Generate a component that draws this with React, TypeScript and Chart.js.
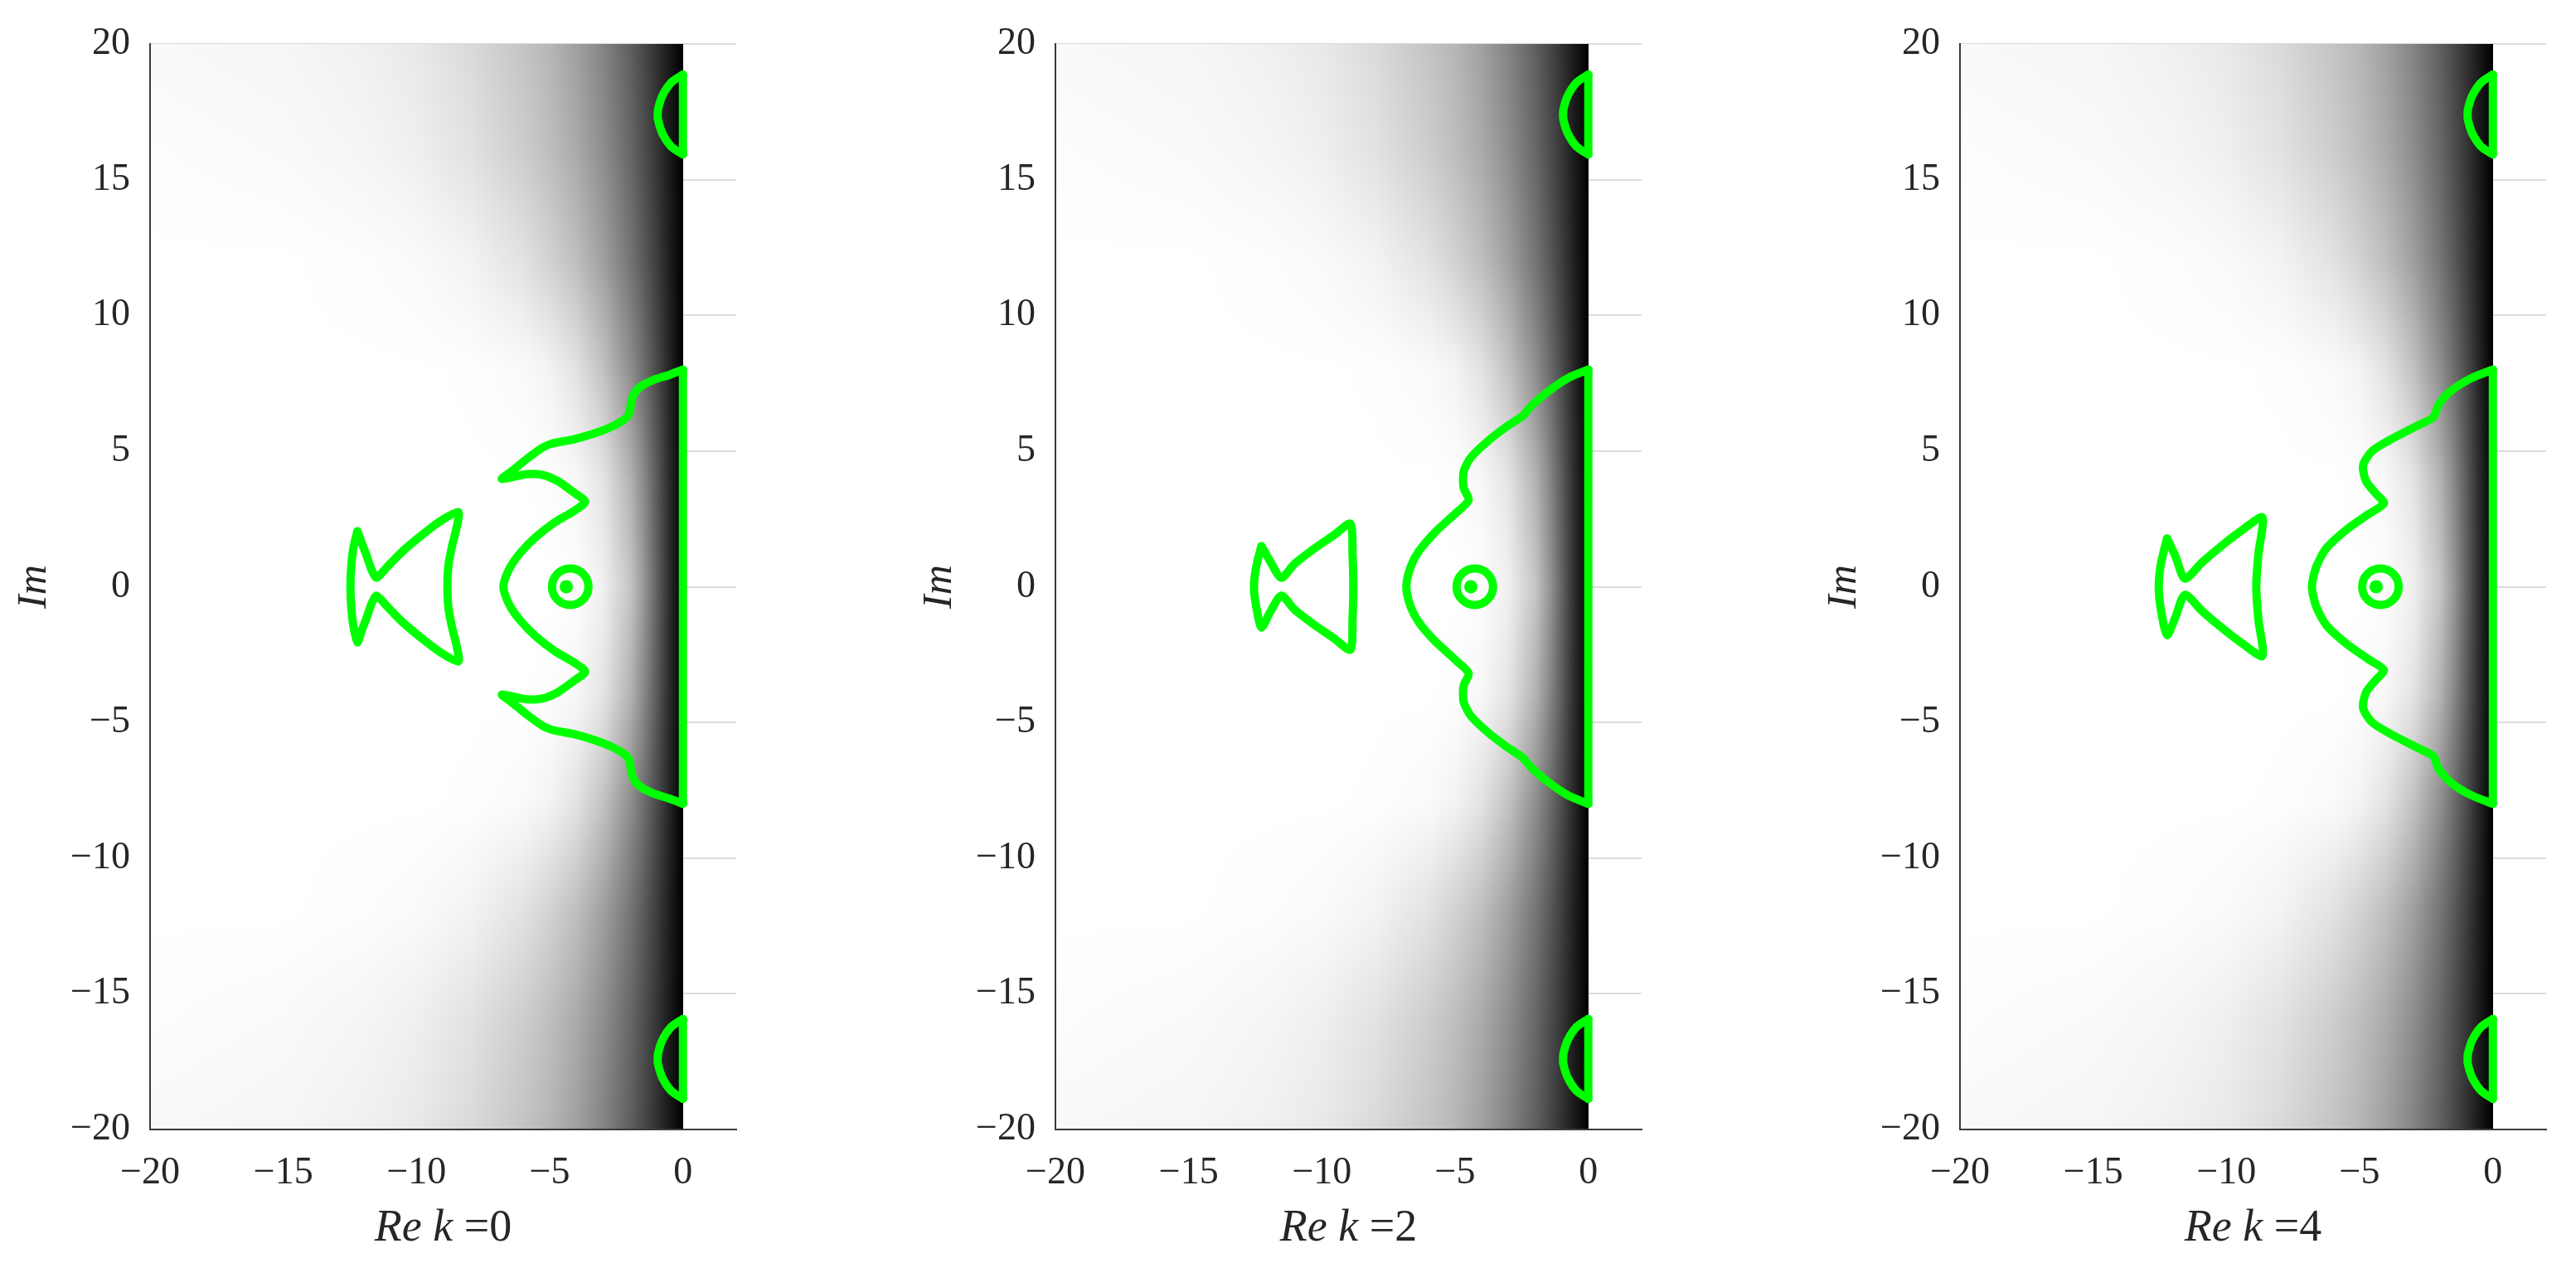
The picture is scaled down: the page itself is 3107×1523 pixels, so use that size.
import React, { useEffect, useRef } from 'react';
import { Chart, registerables } from 'chart.js';

Chart.register(...registerables);

const FONT = "'Liberation Serif', 'Times New Roman', serif";
const TEXT = '#262626';
const GREEN = '#00ff00';

// axes
const xTicks = [-20, -15, -10, -5, 0];
const yTicks = [-20, -15, -10, -5, 0, 5, 10, 15, 20];
const reKValues = [0, 2, 4];
const panelLefts = [0, 1092, 2183];

// background shading (gray level 0..255), by |Im| row and Re column
const shadeX = [0, -0.5, -1, -1.5, -2, -3, -4, -5, -6, -8, -10, -12, -15, -20];
const shadeRowY = [0, 4, 8, 12, 16, 20];
const shadeAt0 = [0, 44, 100, 155, 198, 240, 252, 255, 255, 255, 255, 255, 255, 255];
const shadeAt4 = [0, 42, 92, 140, 180, 228, 247, 253, 255, 255, 255, 255, 255, 255];
const shadeAt8 = [0, 36, 76, 112, 144, 194, 226, 243, 250, 254, 255, 255, 255, 255];
const shadeAt12 = [0, 30, 62, 92, 118, 160, 190, 210, 226, 243, 250, 253, 255, 255];
const shadeAt16 = [0, 26, 55, 80, 104, 142, 170, 190, 205, 226, 239, 245, 250, 253];
const shadeAt20 = [0, 24, 50, 74, 96, 132, 160, 182, 196, 218, 233, 240, 246, 249];
const shadeRows = [shadeAt0, shadeAt4, shadeAt8, shadeAt12, shadeAt16, shadeAt20];

type Pt = [number, number];

// contours common to all panels (arc part + straight edge on Re = 0)
const moonTop: Pt[] = [
  [0, 18.87], [-0.44, 18.58], [-0.77, 18.1], [-0.93, 17.62], [-0.95, 17.4], [-0.93, 17.18],
  [-0.77, 16.7], [-0.44, 16.22], [0, 15.93],
];
const moonTopEdge: Pt[] = [[0, 15.93], [0, 18.87]];
const moonBottom: Pt[] = [
  [0, -15.93], [-0.44, -16.22], [-0.77, -16.7], [-0.93, -17.18], [-0.95, -17.4], [-0.93, -17.62],
  [-0.77, -18.1], [-0.44, -18.58], [0, -18.87],
];
const moonBottomEdge: Pt[] = [[0, -18.87], [0, -15.93]];
const bodyEdge: Pt[] = [[0, -8], [0, 8]];

// Re k = 0
const body0: Pt[] = [
  [0, 8], [-0.5, 7.81], [-1.08, 7.63], [-1.55, 7.4], [-1.84, 7.11], [-1.95, 6.76], [-2.01, 6.4],
  [-2.19, 6.17], [-2.71, 5.88], [-3.41, 5.62], [-4.11, 5.43], [-4.93, 5.27], [-5.28, 5.12],
  [-5.86, 4.71], [-6.45, 4.24], [-6.8, 3.98], [-6.45, 4.03], [-5.86, 4.15], [-5.28, 4.12],
  [-4.7, 3.89], [-4.11, 3.48], [-3.67, 3.13], [-4.11, 2.78], [-4.81, 2.37], [-5.51, 1.84],
  [-6.1, 1.25], [-6.51, 0.67], [-6.74, 0],
  [-6.51, -0.67], [-6.1, -1.25], [-5.51, -1.84], [-4.81, -2.37], [-4.11, -2.78], [-3.67, -3.13],
  [-4.11, -3.48], [-4.7, -3.89], [-5.28, -4.12], [-5.86, -4.15], [-6.45, -4.03], [-6.8, -3.98],
  [-6.45, -4.24], [-5.86, -4.71], [-5.28, -5.12], [-4.93, -5.27], [-4.11, -5.43], [-3.41, -5.62],
  [-2.71, -5.88], [-2.19, -6.17], [-2.01, -6.4], [-1.95, -6.76], [-1.84, -7.11], [-1.55, -7.4],
  [-1.08, -7.63], [-0.5, -7.81], [0, -8],
];
const tail0: Pt[] = [
  [-12.22, 2.05], [-12.37, 1.43], [-12.45, 0.73], [-12.48, 0], [-12.45, -0.73], [-12.37, -1.43],
  [-12.22, -2.05], [-12.05, -1.6], [-11.87, -1.14], [-11.68, -0.61], [-11.5, -0.33],
  [-11.11, -0.72], [-10.53, -1.3], [-9.83, -1.88], [-9.13, -2.4], [-8.43, -2.75],
  [-8.49, -2.2], [-8.66, -1.52], [-8.8, -0.8], [-8.84, 0], [-8.8, 0.8], [-8.66, 1.52],
  [-8.49, 2.2], [-8.43, 2.75], [-9.13, 2.4], [-9.83, 1.88], [-10.53, 1.3], [-11.11, 0.72],
  [-11.5, 0.33], [-11.68, 0.61], [-11.87, 1.14], [-12.05, 1.6], [-12.22, 2.05],
];

// Re k = 2
const body2: Pt[] = [
  [0, 8], [-0.76, 7.69], [-1.54, 7.17], [-2.16, 6.64], [-2.47, 6.29], [-3.09, 5.88],
  [-3.79, 5.35], [-4.41, 4.76], [-4.68, 4.24], [-4.68, 3.65], [-4.49, 3.19], [-4.96, 2.72],
  [-5.74, 2.02], [-6.36, 1.31], [-6.67, 0.73], [-6.83, 0],
  [-6.67, -0.73], [-6.36, -1.31], [-5.74, -2.02], [-4.96, -2.72], [-4.49, -3.19], [-4.68, -3.65],
  [-4.68, -4.24], [-4.41, -4.76], [-3.79, -5.35], [-3.09, -5.88], [-2.47, -6.29], [-2.16, -6.64],
  [-1.54, -7.17], [-0.76, -7.69], [0, -8],
];
const tail2: Pt[] = [
  [-12.27, 1.5], [-12.46, 0.75], [-12.55, 0], [-12.46, -0.75], [-12.27, -1.5], [-11.96, -0.97],
  [-11.52, -0.33], [-11.03, -0.84], [-10.25, -1.43], [-9.55, -1.9], [-8.93, -2.32],
  [-8.85, -1.2], [-8.82, 0], [-8.85, 1.2], [-8.93, 2.32], [-9.55, 1.9], [-10.25, 1.43],
  [-11.03, 0.84], [-11.52, 0.33], [-11.96, 0.97], [-12.27, 1.5],
];

// Re k = 4
const body4: Pt[] = [
  [0, 8], [-0.8, 7.69], [-1.57, 7.22], [-2.04, 6.7], [-2.23, 6.25], [-2.82, 5.94], [-3.75, 5.47],
  [-4.53, 5.0], [-4.87, 4.47], [-4.76, 3.89], [-4.38, 3.42], [-4.09, 3.07], [-4.69, 2.66],
  [-5.46, 2.13], [-6.24, 1.43], [-6.63, 0.73], [-6.79, 0],
  [-6.63, -0.73], [-6.24, -1.43], [-5.46, -2.13], [-4.69, -2.66], [-4.09, -3.07], [-4.38, -3.42],
  [-4.76, -3.89], [-4.87, -4.47], [-4.53, -5.0], [-3.75, -5.47], [-2.82, -5.94], [-2.23, -6.25],
  [-2.04, -6.7], [-1.57, -7.22], [-0.8, -7.69], [0, -8],
];
const tail4: Pt[] = [
  [-12.23, 1.78], [-12.46, 0.84], [-12.54, 0], [-12.46, -0.84], [-12.23, -1.78], [-11.92, -1.14],
  [-11.56, -0.3], [-10.91, -0.9], [-10.13, -1.55], [-9.35, -2.13], [-8.65, -2.55],
  [-8.8, -1.2], [-8.88, 0], [-8.8, 1.2], [-8.65, 2.55], [-9.35, 2.13], [-10.13, 1.55],
  [-10.91, 0.9], [-11.56, 0.3], [-11.92, 1.14], [-12.23, 1.78],
];

// small closed contours around the pole (ring centre and inner dot)
const eyeX = [-4.23, -4.26, -4.22];
const dotX = [-4.38, -4.41, -4.38];

const bodies = [body0, body2, body4];
const tails = [tail0, tail2, tail4];

const fmt = (v: number | string) => String(v).replace('-', '\u2212');

const shadePlugin = {
  id: 'shade',
  beforeDatasetsDraw(chart: any) {
    const { ctx, scales } = chart;
    const xs = scales.x;
    const ys = scales.y;
    const left = Math.round(xs.getPixelForValue(-20));
    const right = Math.round(xs.getPixelForValue(0));
    const top = Math.round(ys.getPixelForValue(20));
    const bottom = Math.round(ys.getPixelForValue(-20));
    const w = right - left;
    const h = bottom - top;
    if (!chart.$shadeCanvas) {
      const off = document.createElement('canvas');
      off.width = w;
      off.height = h;
      const octx = off.getContext('2d')!;
      const img = octx.createImageData(w, h);
      const nRow = shadeRowY.length;
      const nCol = shadeX.length;
      const row = new Array(nCol).fill(0);
      for (let j = 0; j < h; j++) {
        const ay = Math.abs(ys.getValueForPixel(top + j + 0.5));
        let r = nRow - 2;
        for (let k = 0; k < nRow - 1; k++) {
          if (ay <= shadeRowY[k + 1]) { r = k; break; }
        }
        const tr = Math.min(1, Math.max(0, (ay - shadeRowY[r]) / (shadeRowY[r + 1] - shadeRowY[r])));
        for (let c = 0; c < nCol; c++) row[c] = shadeRows[r][c] * (1 - tr) + shadeRows[r + 1][c] * tr;
        for (let i = 0; i < w; i++) {
          const xv = xs.getValueForPixel(left + i + 0.5);
          let c = nCol - 2;
          for (let k = 0; k < nCol - 1; k++) {
            if (xv >= shadeX[k + 1]) { c = k; break; }
          }
          const t = Math.min(1, Math.max(0, (xv - shadeX[c]) / (shadeX[c + 1] - shadeX[c])));
          const g = Math.round(row[c] * (1 - t) + row[c + 1] * t);
          const p = (j * w + i) * 4;
          img.data[p] = g; img.data[p + 1] = g; img.data[p + 2] = g; img.data[p + 3] = 255;
        }
      }
      octx.putImageData(img, 0, 0);
      chart.$shadeCanvas = off;
    }
    ctx.drawImage(chart.$shadeCanvas, left, top);
  },
};

const xTitlePlugin = {
  id: 'xTitle',
  afterDraw(chart: any, _args: any, opts: any) {
    const { ctx } = chart;
    const xs = chart.scales.x;
    const cx = (xs.left + xs.right) / 2;
    const cy = xs.bottom - 41;
    const size = 54;
    ctx.save();
    ctx.fillStyle = TEXT;
    ctx.textBaseline = 'middle';
    ctx.textAlign = 'left';
    const italicFont = `italic ${size}px ${FONT}`;
    const normalFont = `${size}px ${FONT}`;
    const a = 'Re k';
    const b = ' =' + String(opts.value);
    ctx.font = italicFont;
    const wa = ctx.measureText(a).width;
    ctx.font = normalFont;
    const wb = ctx.measureText(b).width;
    const x0 = cx - (wa + wb) / 2;
    ctx.font = italicFont;
    ctx.fillText(a, x0, cy);
    ctx.font = normalFont;
    ctx.fillText(b, x0 + wa, cy);
    ctx.restore();
  },
};

function lineDataset(pts: Pt[], tension: number) {
  return {
    data: pts.map(([x, y]) => ({ x, y })),
    showLine: true,
    borderColor: GREEN,
    borderWidth: 10,
    pointRadius: 0,
    tension,
    fill: false,
    borderJoinStyle: 'round',
    borderCapStyle: 'round',
  };
}

function Panel({ idx }: { idx: number }) {
  const ref = useRef<HTMLCanvasElement>(null);
  useEffect(() => {
    const canvas = ref.current!;
    const tickFont = { family: FONT, size: 46 };
    const chart = new Chart(canvas, {
      type: 'scatter',
      data: {
        datasets: [
          lineDataset(moonTop, 0.3),
          lineDataset(moonTopEdge, 0),
          lineDataset(moonBottom, 0.3),
          lineDataset(moonBottomEdge, 0),
          lineDataset(bodies[idx], 0.25),
          lineDataset(bodyEdge, 0),
          lineDataset(tails[idx], 0.25),
          {
            data: [{ x: eyeX[idx], y: 0 }],
            pointRadius: 22,
            borderWidth: 10,
            borderColor: GREEN,
            backgroundColor: 'rgba(0,0,0,0)',
            showLine: false,
          },
          {
            data: [{ x: dotX[idx], y: 0 }],
            pointRadius: 8,
            borderWidth: 0,
            borderColor: GREEN,
            backgroundColor: GREEN,
            showLine: false,
          },
        ] as any,
      },
      options: {
        responsive: false,
        animation: false,
        events: [],
        layout: { padding: { top: 53, right: 19, bottom: 0, left: 0 } },
        plugins: {
          legend: { display: false },
          tooltip: { enabled: false },
          title: { display: false },
          xTitle: { value: reKValues[idx] },
        } as any,
        scales: {
          x: {
            type: 'linear',
            min: -20,
            max: 2,
            afterBuildTicks: (s: any) => { s.ticks = xTicks.map((v) => ({ value: v })); },
            afterFit: (s: any) => { s.height = 161; },
            grid: { display: false, drawTicks: false },
            border: { display: true, color: '#3a3a3a', width: 2, z: 1 },
            ticks: {
              font: tickFont, color: TEXT, padding: 25, maxRotation: 0, autoSkip: false,
              callback: (v: any) => fmt(v),
            },
          },
          y: {
            type: 'linear',
            min: -20,
            max: 20,
            afterBuildTicks: (s: any) => { s.ticks = yTicks.map((v) => ({ value: v })); },
            afterFit: (s: any) => { s.width = 181; },
            grid: { color: '#dcdcdc', lineWidth: 2, drawTicks: false },
            border: { display: true, color: '#3a3a3a', width: 2, z: 1 },
            ticks: {
              font: tickFont, color: TEXT, padding: 24, autoSkip: false,
              callback: (v: any) => fmt(v),
            },
            title: {
              display: true,
              text: 'Im',
              color: TEXT,
              font: { family: FONT, size: 50, style: 'italic' },
              padding: { top: 12, bottom: 0 },
            },
          },
        } as any,
      },
      plugins: [shadePlugin, xTitlePlugin] as any,
    });
    return () => chart.destroy();
  }, [idx]);
  return (
    <canvas
      ref={ref}
      width={920}
      height={1523}
      style={{ position: 'absolute', left: panelLefts[idx], top: 0, width: 920, height: 1523 }}
    />
  );
}

export default function App() {
  return (
    <div
      style={{
        position: 'fixed', left: 0, top: 0, width: 3107, height: 1523,
        background: '#ffffff', overflow: 'hidden',
      }}
    >
      {[0, 1, 2].map((i) => <Panel key={i} idx={i} />)}
    </div>
  );
}
